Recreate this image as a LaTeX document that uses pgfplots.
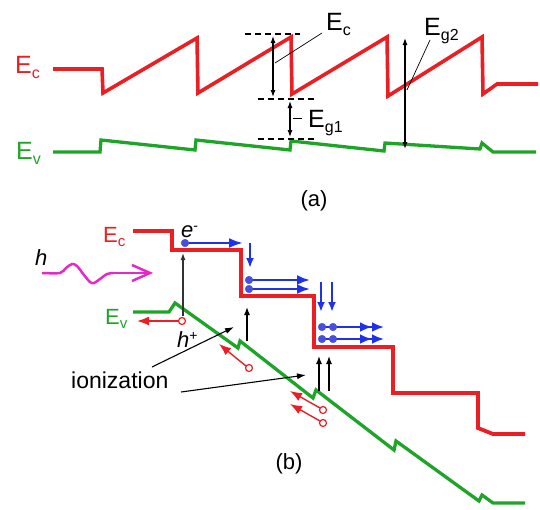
\documentclass[border=0pt]{standalone}
\usepackage{pgfplots}
\pgfplotsset{compat=1.18}
\usepackage{fontspec}
\setmainfont{Liberation Sans}
\usetikzlibrary{arrows.meta}
\definecolor{cred}{RGB}{235,30,35}
\definecolor{cgreen}{RGB}{30,165,40}
\definecolor{cblue}{RGB}{30,50,235}
\definecolor{cdot}{RGB}{70,80,220}
\definecolor{cmag}{RGB}{230,40,200}
\newcommand{\fs}[1]{\fontsize{#1}{#1}\selectfont}
\newcommand{\lab}[4]{{\fs{#1}E\raisebox{-#3pt}{\fs{#4}#2}}}
\begin{document}
\begin{tikzpicture}
\begin{axis}[scale only axis, width=540pt, height=509pt,
  xmin=0, xmax=540, ymin=0, ymax=509, y dir=reverse, hide axis, clip=false]
% ---------- panel (a) ----------
\addplot[cred, line width=3.6pt, line join=miter, miter limit=3] coordinates {
(53,69)(102,69)(103,93)(197,38)(198,93)(291,37)(292,94)(387,37)(388,96)(482,37)(483,94)(497,84)(538,84)};
\addplot[cgreen, line width=3.3pt, line join=miter, miter limit=3] coordinates {
(53,152)(100,152)(101,140)(195,150)(196,140)(290,150)(291,141)(384,151)(385,143)(480,149)(482,143)(493,152)(536,152)};
\addplot[black, line width=1.6pt, dash pattern=on 6pt off 4pt] coordinates {(245,34)(300,34)};
\addplot[black, line width=1.6pt, dash pattern=on 6pt off 4pt] coordinates {(258,99)(315,99)};
\addplot[black, line width=1.6pt, dash pattern=on 6pt off 4pt] coordinates {(258,139)(315,139)};
\addplot[black, line width=1.1pt, {Latex[length=7pt,width=5pt]}-{Latex[length=7pt,width=5pt]}] coordinates {(273,36)(273,97)};
\addplot[black, line width=1.1pt, {Latex[length=7pt,width=5pt]}-{Latex[length=7pt,width=5pt]}] coordinates {(290,101)(290,137)};
\addplot[black, line width=1.1pt, {Latex[length=7pt,width=5pt]}-{Latex[length=7pt,width=5pt]}] coordinates {(405,38)(405,149)};
\addplot[black, line width=0.7pt] coordinates {(322,33)(275,63)};
\addplot[black, line width=0.7pt] coordinates {(430,40)(407,90)};
\addplot[black, line width=0.7pt] coordinates {(293,118)(302,118)};
\node[anchor=base west, cred, inner sep=0pt] at (axis cs:15,73) {\lab{25}{c}{5}{16}};
\node[anchor=base west, cgreen, inner sep=0pt] at (axis cs:16,159) {\lab{25}{v}{5}{16}};
\node[anchor=base west, black, inner sep=0pt] at (axis cs:326,30) {\lab{25}{c}{5}{16}};
\node[anchor=base west, black, inner sep=0pt] at (axis cs:308,127) {\lab{25}{g1}{5}{16}};
\node[anchor=base west, black, inner sep=0pt] at (axis cs:424,35) {\lab{25}{g2}{5}{16}};
\node[inner sep=0pt] at (axis cs:314,201) {\fs{22}(a)};
% ---------- panel (b) ----------
\addplot[cred, line width=3.8pt, line join=miter] coordinates {
(133,231)(172,231)(172,250)(241,250)(241,296)(314,296)(314,347)(393,347)(393,393)(478,393)(478,428)(493,434)(525,434)};
\addplot[cgreen, line width=3.3pt, line join=miter, miter limit=3] coordinates {
(133,312)(169,312)(175,303)(238,348)(240,341)(313,398)(316,390)(394,450)(396,441)(479,501)(482,495)(493,503)(525,503)};
% photon
\addplot[cmag, line width=2.5pt, smooth, tension=0.5] coordinates {
(42,273)(60,273)(66,268)(72,264)(77,266)(84,275)(90,282)(94,283)(100,279)(107,274)(113,273)};
\addplot[cmag, line width=2.5pt] coordinates {(112,273)(150,273)};
\addplot[cmag, line width=2.5pt, line join=miter] coordinates {(132,265)(150,273)(132,281)};
% excitation
\addplot[black!80, line width=1.2pt, -{Latex[length=7pt,width=5pt]}] coordinates {(183,316)(183,253)};
% electron flow
\addplot[cblue, line width=2.4pt, -{Latex[length=14pt,width=10pt]}] coordinates {(188,243)(243,243)};
\addplot[cblue, line width=2.2pt, -{Latex[length=10pt,width=8pt]}] coordinates {(250,243)(250,268)};
\addplot[cblue, line width=2.4pt, -{Latex[length=13pt,width=10pt]}] coordinates {(252,280)(310,280)};
\addplot[cblue, line width=2.4pt, -{Latex[length=13pt,width=10pt]}] coordinates {(252,289)(310,289)};
\addplot[cblue, line width=2.2pt, -{Latex[length=10pt,width=8pt]}] coordinates {(321,282)(321,312)};
\addplot[cblue, line width=2.2pt, -{Latex[length=10pt,width=8pt]}] coordinates {(332,282)(332,312)};
\addplot[cblue, line width=2.4pt, -{Latex[length=12pt,width=10pt] Latex[length=12pt,width=10pt]}] coordinates {(325,327)(384,327)};
\addplot[cblue, line width=2.4pt, -{Latex[length=12pt,width=10pt] Latex[length=12pt,width=10pt]}] coordinates {(325,339)(384,339)};
\addplot[only marks, mark=*, mark size=3.8pt, cdot] coordinates {
(185,243)(249,280)(249,289)(322,327)(333,327)(322,339)(333,339)};
% holes
\addplot[cred, line width=1.6pt, -{Latex[length=12pt,width=9pt]}] coordinates {(178,321)(137,321)};
\addplot[cred, line width=1.4pt, -{Latex[length=12pt,width=9pt]}] coordinates {(246,366)(219,344)};
\addplot[cred, line width=1.4pt, -{Latex[length=12pt,width=9pt]}] coordinates {(320,408)(290,391)};
\addplot[cred, line width=1.4pt, -{Latex[length=12pt,width=9pt]}] coordinates {(320,421)(290,404)};
\addplot[only marks, mark=o, mark size=3.5pt, cred, line width=1.2pt, mark options={fill=white}] coordinates {
(182,321)(249,368)(323,410)(323,423)};
% ionization
\addplot[black, line width=1.3pt, -{Latex[length=8pt,width=6pt]}] coordinates {(247,341)(247,307)};
\addplot[black, line width=1.3pt, -{Latex[length=8pt,width=6pt]}] coordinates {(319,391)(319,356)};
\addplot[black, line width=1.3pt, -{Latex[length=8pt,width=6pt]}] coordinates {(329,391)(329,356)};
\addplot[black, line width=1.1pt, -{Latex[length=9pt,width=6pt]}] coordinates {(152,367)(234,327)};
\addplot[black, line width=1.1pt, -{Latex[length=9pt,width=6pt]}] coordinates {(181,392)(306,375)};
% labels
\node[anchor=base west, cred, inner sep=0pt] at (axis cs:103,242) {\lab{22}{c}{4}{15}};
\node[anchor=base west, cgreen, inner sep=0pt] at (axis cs:105,324) {\lab{22}{v}{4}{15}};
\node[anchor=base west, inner sep=0pt] at (axis cs:35,265) {\fs{22}\itshape h};
\node[anchor=base west, inner sep=0pt] at (axis cs:181,237) {\fs{22}\itshape e\raisebox{7pt}{\fs{14}\upshape -}};
\node[anchor=base west, inner sep=0pt] at (axis cs:177,347) {\fs{22}\itshape h\raisebox{7pt}{\fs{14}\upshape +}};
\node[anchor=base west, inner sep=0pt] at (axis cs:71,388) {\fs{23}ionization};
\node[inner sep=0pt] at (axis cs:289,464) {\fs{22}(b)};
\end{axis}
\pgfresetboundingbox
\path (current axis.south west) rectangle (current axis.north east);
\end{tikzpicture}
\end{document}
